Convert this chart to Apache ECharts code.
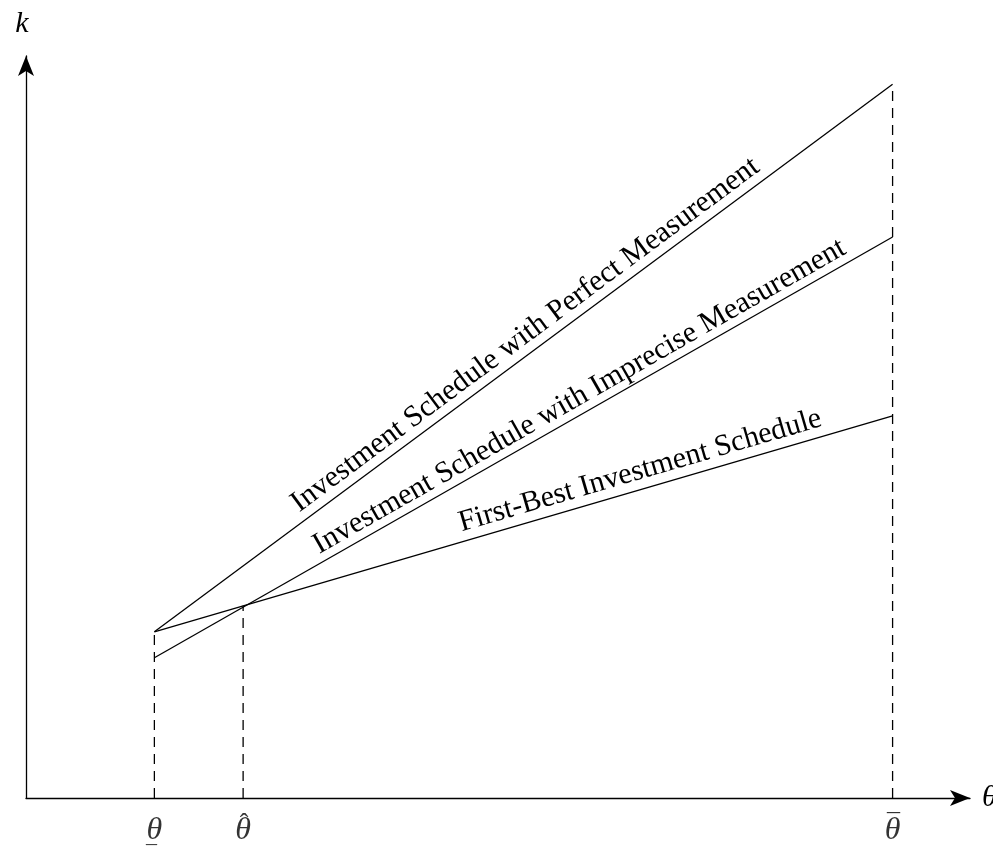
<!DOCTYPE html>
<html>
<head>
<meta charset="utf-8">
<script src="https://cdn.jsdelivr.net/npm/echarts@6/dist/echarts.min.js"></script>
<style>html,body{margin:0;padding:0;background:#fff}#c{width:993px;height:846px}</style>
</head>
<body>
<div id="c"></div>
<script>
// theta positions: lower bound, threshold (hat), upper bound
const thetaValues = [1.36, 2.30, 9.18];
// accent above / below each theta tick label
const thetaAccentTop = [' ', '\u02C6', '\u00AF'];
const thetaAccentBottom = ['_', ' ', ' '];
// schedules: value at lower bound, value at upper bound
const perfect = [2.24, 9.62];
const imprecise = [1.89, 7.56];
const firstBest = [2.24, 5.15];
const hatIntersect = 2.59;
const scheduleNames = ['Investment Schedule with Perfect Measurement', 'Investment Schedule with Imprecise Measurement', 'First-Best Investment Schedule'];
const labelAt = [5.40, 5.95, 6.56];

const FONT = 'Liberation Serif';
const labelGap = [-2.5, -1.5, -3];
const chart = echarts.init(document.getElementById('c'), null, {renderer: 'canvas'});
const lo = thetaValues[0], hat = thetaValues[1], hi = thetaValues[2];
const schedules = [perfect, imprecise, firstBest];
const solid = {color: '#000', width: 1.3};
const dashed = {color: '#000', width: 1.3, type: [10, 7]};

const series = [];
schedules.forEach((s, i) => {
  series.push({type: 'line', data: [[lo, s[0]], [hi, s[1]]], symbol: 'none', lineStyle: solid, silent: true, z: 3});
});
series.push({type: 'line', data: [[lo, 0], [lo, perfect[0]]], symbol: 'none', lineStyle: dashed, z: 2});
series.push({type: 'line', data: [[hat, 0], [hat, hatIntersect]], symbol: 'none', lineStyle: dashed, z: 2});
series.push({type: 'line', data: [[hi, 0], [hi, perfect[1]]], symbol: 'none', lineStyle: dashed, z: 2});
series.push({
  type: 'scatter', symbolSize: 0,
  data: thetaValues.map((v, i) => ({value: [v, 0], name: String(i)})),
  label: {show: true, position: 'bottom', distance: 21, color: '#000',
    formatter: p => {
      const i = +p.name;
      return '{a|' + thetaAccentTop[i] + '}\n{t|\u03B8}\n{u|' + thetaAccentBottom[i] + '}';
    },
    rich: {
      a: {fontFamily: FONT, fontSize: 26, lineHeight: 11, padding: [0, 0, 0, 2], align: 'center'},
      t: {fontFamily: FONT, fontStyle: 'italic', fontSize: 32, lineHeight: 2, align: 'center'},
      u: {fontFamily: FONT, fontSize: 22, lineHeight: 8, padding: [0, 6, 0, 0], align: 'center'}
    }
  }
});

const axisCommon = {
  type: 'value', min: 0, max: 10,
  splitLine: {show: false}, axisTick: {show: false}, axisLabel: {show: false},
  axisLine: {show: true, onZero: false, symbol: ['none', 'arrow'], symbolSize: [12, 20], lineStyle: {color: '#000', width: 1.3}},
  nameTextStyle: {fontFamily: FONT, fontStyle: 'italic', fontSize: 30, color: '#000'}
};

chart.setOption({
  animation: false,
  backgroundColor: '#fff',
  grid: {left: 26, right: 23, top: 56, bottom: 48, outerBoundsMode: 'none', containLabel: false},
  xAxis: Object.assign({}, axisCommon, {name: '\u03B8', nameLocation: 'end', nameGap: 12,
    nameTextStyle: Object.assign({}, axisCommon.nameTextStyle, {padding: [8, 0, 0, 0]})}),
  yAxis: Object.assign({}, axisCommon, {name: 'k', nameLocation: 'end', nameGap: 17,
    nameTextStyle: Object.assign({}, axisCommon.nameTextStyle, {padding: [0, 8, 0, 0]})}),
  series: series
});

// labels along each schedule
const graphics = schedules.map((s, i) => {
  const p0 = chart.convertToPixel({gridIndex: 0}, [lo, s[0]]);
  const p1 = chart.convertToPixel({gridIndex: 0}, [hi, s[1]]);
  const t = (labelAt[i] - lo) / (hi - lo);
  const yv = s[0] + (s[1] - s[0]) * t;
  const pa = chart.convertToPixel({gridIndex: 0}, [labelAt[i], yv]);
  const ang = Math.atan2(p0[1] - p1[1], p1[0] - p0[0]);
  return {
    type: 'text', x: pa[0], y: pa[1], rotation: ang, silent: true, z: 10,
    style: {text: scheduleNames[i], x: 0, y: labelGap[i], align: 'center', verticalAlign: 'bottom',
      font: 'normal 30px "' + FONT + '"', fill: '#000'}
  };
});
chart.setOption({graphic: graphics});
</script>
</body>
</html>
